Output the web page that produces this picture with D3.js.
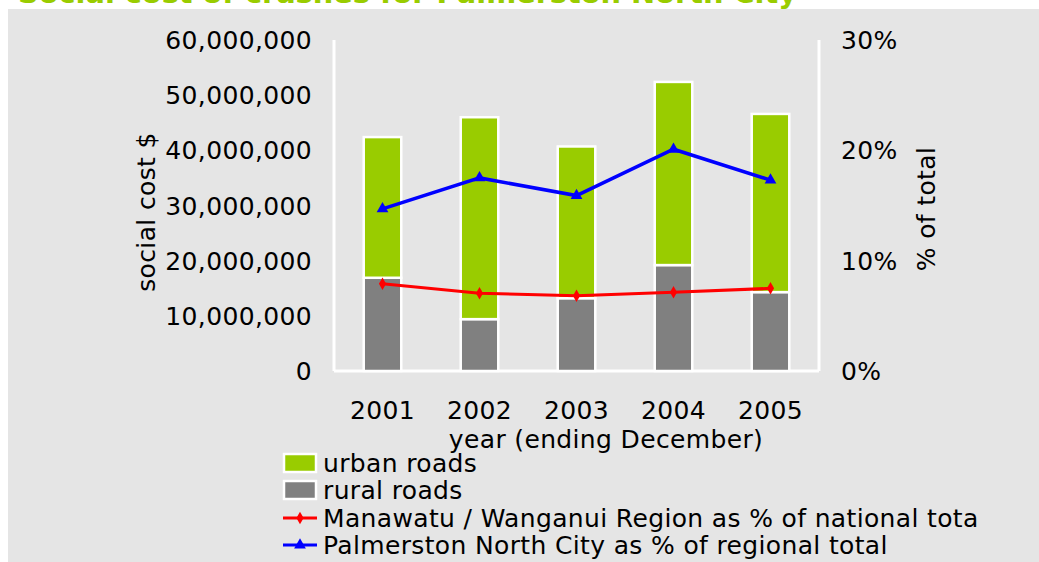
<!DOCTYPE html>
<html>
<head>
<meta charset="utf-8">
<script src="https://cdn.jsdelivr.net/npm/d3@7"></script>
<style>
  body { margin: 0; background: #ffffff; }
  text { font-family: "DejaVu Sans", Verdana, sans-serif; fill: #000; letter-spacing: 0.35px; }
</style>
</head>
<body>
<svg id="chart" width="1039" height="562"></svg>
<script>
// ---- data ----
const years = ["2001", "2002", "2003", "2004", "2005"];
const ruralRoads = [16900000, 9400000, 13200000, 19200000, 14300000];
const urbanRoads = [25500000, 36600000, 27500000, 33200000, 32300000];
const regionPctNational = [0.079, 0.0705, 0.0683, 0.0713, 0.0749];
const cityPctRegional = [0.147, 0.175, 0.159, 0.201, 0.173];
const leftTicks = [0, 10000000, 20000000, 30000000, 40000000, 50000000, 60000000];
const rightTicks = [0, 0.1, 0.2, 0.3];
const legendLabels = ["urban roads", "rural roads",
  "Manawatu / Wanganui Region as % of national tota",
  "Palmerston North City as % of regional total"];

(function () {
const svg = d3.select("#chart");
const W = 1039, H = 562;

// background panel
svg.append("rect").attr("x", 8).attr("y", 9).attr("width", W - 8).attr("height", H - 9)
  .attr("fill", "#e5e5e5");

// title (clipped at top in reference)
svg.append("text").attr("x", 18).attr("y", 3)
  .style("font-weight", "bold").style("font-size", "28.8px").style("fill", "#99cc00")
  .style("letter-spacing", "0px")
  .text("Social cost of crashes for Palmerston North City");

const pL = 334, pR = 819, pT = 40, pB = 371;
const x = d3.scaleBand().domain(years).range([pL, pR]).paddingInner(0.613).paddingOuter(0.3065);
const y = d3.scaleLinear().domain([0, 60000000]).range([pB, pT]);
const yp = d3.scaleLinear().domain([0, 0.3]).range([pB, pT]);

const green = "#99cc00", gray = "#808080";

// axis lines
const g = svg.append("g");
g.append("line").attr("x1", pL).attr("x2", pL).attr("y1", pT).attr("y2", pB)
  .attr("stroke", "#fff").attr("stroke-width", 3);
g.append("line").attr("x1", pR).attr("x2", pR).attr("y1", pT).attr("y2", pB)
  .attr("stroke", "#fff").attr("stroke-width", 3);
g.append("line").attr("x1", pL).attr("x2", pR).attr("y1", pB).attr("y2", pB)
  .attr("stroke", "#fff").attr("stroke-width", 3);

// bars
const stackData = years.map((yr, i) => ({ yr, rural: ruralRoads[i], urban: urbanRoads[i] }));
const bars = svg.append("g");
bars.selectAll("rect.rural").data(stackData).join("rect").attr("class", "rural")
  .attr("x", d => x(d.yr)).attr("width", x.bandwidth())
  .attr("y", d => y(d.rural)).attr("height", d => y(0) - y(d.rural))
  .attr("fill", gray).attr("stroke", "#fff").attr("stroke-width", 2.5);
bars.selectAll("rect.urban").data(stackData).join("rect").attr("class", "urban")
  .attr("x", d => x(d.yr)).attr("width", x.bandwidth())
  .attr("y", d => y(d.rural + d.urban)).attr("height", d => y(d.rural) - y(d.rural + d.urban))
  .attr("fill", green).attr("stroke", "#fff").attr("stroke-width", 2.5);

// lines
const cx = d => x(d) + x.bandwidth() / 2;
const lineGen = d3.line().x(d => cx(d.yr)).y(d => yp(d.v));
const redData = years.map((yr, i) => ({ yr, v: regionPctNational[i] }));
const blueData = years.map((yr, i) => ({ yr, v: cityPctRegional[i] }));
svg.append("path").datum(redData).attr("d", lineGen).attr("fill", "none")
  .attr("stroke", "#ff0000").attr("stroke-width", 3);
svg.append("path").datum(blueData).attr("d", lineGen).attr("fill", "none")
  .attr("stroke", "#0000ff").attr("stroke-width", 3.5);
const diamond = d3.symbol().type(d3.symbolDiamond).size(45);
const tri = d3.symbol().type(d3.symbolTriangle).size(60);
svg.selectAll("path.rm").data(redData).join("path").attr("class", "rm")
  .attr("transform", d => `translate(${cx(d.yr)},${yp(d.v)})`).attr("d", diamond).attr("fill", "#ff0000");
svg.selectAll("path.bm").data(blueData).join("path").attr("class", "bm")
  .attr("transform", d => `translate(${cx(d.yr)},${yp(d.v)})`).attr("d", tri).attr("fill", "#0000ff");

// left axis labels
const fmt = d3.format(",");
svg.append("g").selectAll("text").data(leftTicks).join("text")
  .attr("x", 312).attr("y", d => y(d)).attr("dy", "0.36em")
  .attr("text-anchor", "end").style("font-size", "25px").text(d => fmt(d));
// right axis labels
svg.append("g").selectAll("text").data(rightTicks).join("text")
  .attr("x", 841).attr("y", d => yp(d)).attr("dy", "0.36em")
  .attr("text-anchor", "start").style("font-size", "25px").text(d => d3.format(".0%")(d));
// x labels
svg.append("g").selectAll("text").data(years).join("text")
  .attr("x", d => cx(d)).attr("y", 419).attr("text-anchor", "middle")
  .style("font-size", "25px").text(d => d);

// axis titles
svg.append("text").attr("x", 606).attr("y", 448).attr("text-anchor", "middle")
  .style("font-size", "25px").text("year (ending December)");
svg.append("text").attr("transform", "translate(146,212) rotate(-90)").attr("dy", "0.36em")
  .attr("text-anchor", "middle").style("font-size", "25px").text("social cost $");
svg.append("text").attr("transform", "translate(926,209) rotate(-90)").attr("dy", "0.36em")
  .attr("text-anchor", "middle").style("font-size", "25px").text("% of total");

// legend
const leg = svg.append("g");
const rowY = [463, 490, 518, 545];
leg.selectAll("rect").data([green, gray]).join("rect")
  .attr("x", 284).attr("y", (d, i) => rowY[i] - 9).attr("width", 32).attr("height", 18)
  .attr("fill", d => d).attr("stroke", "#fff").attr("stroke-width", 2.5);
[["#ff0000", diamond], ["#0000ff", tri]].forEach(([c, sym], i) => {
  const yy = rowY[2 + i];
  leg.append("line").attr("x1", 283).attr("x2", 317).attr("y1", yy).attr("y2", yy)
    .attr("stroke", c).attr("stroke-width", 3);
  leg.append("path").attr("transform", `translate(300,${yy})`).attr("d", sym).attr("fill", c);
});
leg.selectAll("text").data(legendLabels).join("text")
  .attr("x", 323).attr("y", (d, i) => rowY[i]).attr("dy", "0.36em")
  .style("font-size", "25px").text(d => d);
})();
</script>
</body>
</html>
